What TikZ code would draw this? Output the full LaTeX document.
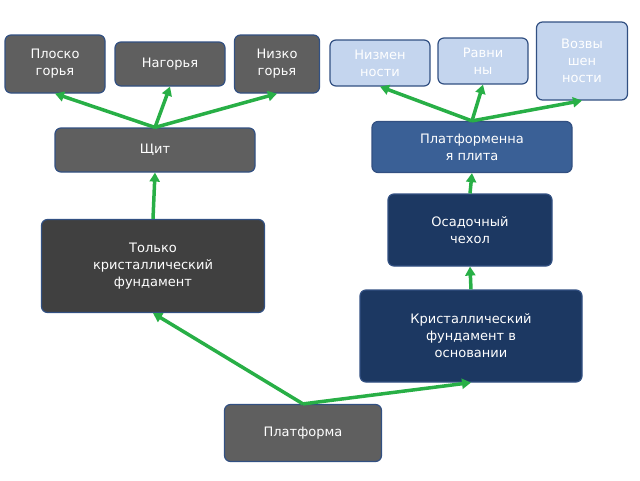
\documentclass[tikz,border=0pt]{standalone}
\usepackage{fontspec}
\setmainfont{DejaVu Sans}
\usetikzlibrary{arrows.meta, positioning}
\definecolor{boxgray}{RGB}{95, 95, 95}
\definecolor{darkgray1}{RGB}{64, 64, 64}
\definecolor{lightblue1}{RGB}{196, 213, 238}
\definecolor{plateblue}{RGB}{58, 96, 150}
\definecolor{navy1}{RGB}{28, 56, 98}
\definecolor{edgeblue}{RGB}{50, 80, 130}
\definecolor{arrowgreen}{RGB}{40, 175, 70}
\tikzset{
  box/.style={draw=edgeblue, line width=1.2pt, rounded corners=6pt, text=white,
    align=center, inner sep=2pt, font=\fontsize{13}{17}\selectfont},
  link/.style={-{Triangle[length=9pt, width=10pt]}, line width=3.5pt, arrowgreen}
}
\begin{document}
\begin{tikzpicture}[x=1pt, y=-1pt]
  \useasboundingbox (0,0) rectangle (640,480);

  % Top row
  \node[box, fill=boxgray, minimum width=100pt, minimum height=58pt] (plato) at (55,64) {Плоско\\горья};
  \node[box, fill=boxgray, minimum width=110pt, minimum height=44pt] (upland) at (170,64) {Нагорья};
  \node[box, fill=boxgray, minimum width=85pt, minimum height=58pt] (lowmt) at (277,64) {Низко\\горья};
  \node[box, fill=lightblue1, minimum width=100pt, minimum height=46pt] (lowland) at (380,63) {Низмен\\ности};
  \node[box, fill=lightblue1, minimum width=90pt, minimum height=46pt] (plain) at (483,61) {Равни\\ны};
  \node[box, fill=lightblue1, minimum width=91pt, minimum height=78pt] (hill) at (582,61) {Возвы\\шен\\ности};

  % Middle
  \node[box, fill=boxgray, minimum width=200pt, minimum height=44pt] (shield) at (155,150) {Щит};
  \node[box, fill=plateblue, minimum width=200pt, minimum height=51pt] (plate) at (472,147) {Платформенна\\я плита};
  \node[box, fill=navy1, minimum width=164pt, minimum height=72pt] (cover) at (470,230) {Осадочный\\чехол};
  \node[box, fill=darkgray1, minimum width=223pt, minimum height=93pt] (crystal) at (153,266) {Только\\кристаллический\\фундамент};
  \node[box, fill=navy1, minimum width=222pt, minimum height=92pt] (base) at (471,336) {Кристаллический\\фундамент в\\основании};
  \node[box, fill=boxgray, minimum width=157pt, minimum height=57pt] (platform) at (303,433) {Платформа};

  % Arrows
  \draw[link] (platform.north) -- (crystal.south);
  \draw[link] (platform.north) -- (base.south);
  \draw[link] (crystal.north) -- (shield.south);
  \draw[link] (base.north) -- (cover.south);
  \draw[link] (cover.north) -- (plate.south);
  \draw[link] (shield.north) -- (plato.south);
  \draw[link] (shield.north) -- (upland.south);
  \draw[link] (shield.north) -- (lowmt.south);
  \draw[link] (plate.north) -- (lowland.south);
  \draw[link] (plate.north) -- (plain.south);
  \draw[link] (plate.north) -- (hill.south);
\end{tikzpicture}
\end{document}
